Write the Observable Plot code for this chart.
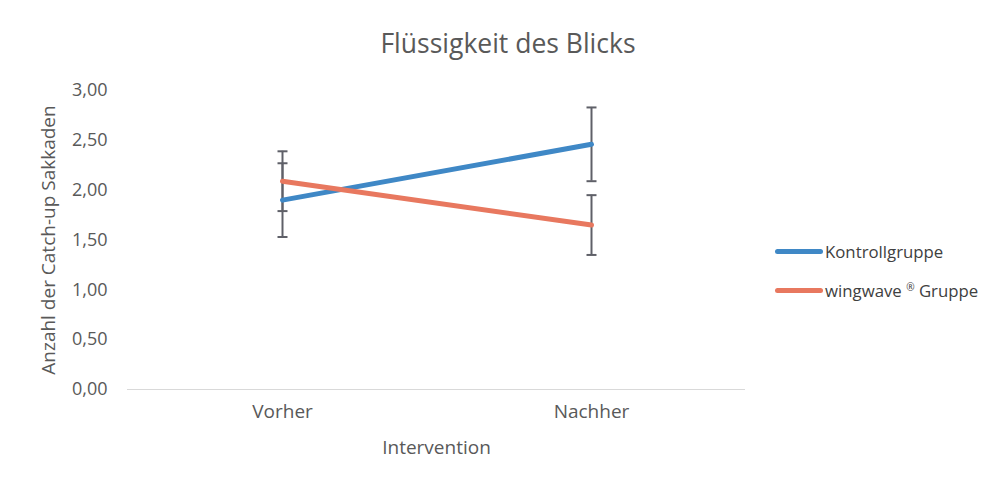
<!DOCTYPE html>
<html><head><meta charset="utf-8">
<script src="https://cdn.jsdelivr.net/npm/d3@7"></script>
<script src="https://cdn.jsdelivr.net/npm/@observablehq/plot@0.6"></script>
<style>
body{margin:0;background:#fff;font-family:"Open Sans",sans-serif;}
#wrap{position:relative;width:994px;height:481px;}
#title{position:absolute;left:0;width:1016px;top:25px;text-align:center;font-size:26.5px;color:#595959;}
#legend{position:absolute;left:775px;top:239px;font-size:16.8px;color:#404040;}
.item{display:flex;align-items:center;height:24px;margin-bottom:15px;white-space:pre;}
.sw{width:48px;height:5px;border-radius:3px;margin-right:2px;}
.reg{font-size:0.6em;position:relative;top:-0.5em;}
</style></head>
<body><div id="wrap"><div id="title">Flüssigkeit des Blicks</div><div id="legend"></div></div>
<script>
const phases = ["Vorher", "Nachher"];
const series = ["Kontrollgruppe", "wingwave ® Gruppe"];
const kontroll = [1.90, 2.46];
const wingwave = [2.09, 1.65];
const kontrollErr = [0.37, 0.37];
const wingwaveErr = [0.30, 0.30];
const colors = ["#3f88c6", "#e8785f"];
const yTicks = [0, 0.5, 1, 1.5, 2, 2.5, 3];

const data = [];
phases.forEach((p, i) => {
  data.push({phase: p, group: series[0], v: kontroll[i], e: kontrollErr[i]});
  data.push({phase: p, group: series[1], v: wingwave[i], e: wingwaveErr[i]});
});
const fmt = d => d3.format(".2f")(d).replace(".", ",");
const cap = {draw(ctx, size){ ctx.moveTo(-5,0); ctx.lineTo(5,0); }};

const chart = Plot.plot({
  width: 994, height: 481,
  marginLeft: 127, marginRight: 249, marginTop: 90, marginBottom: 92,
  style: {fontFamily: "'Open Sans', sans-serif", fontSize: "18px", color: "#595959", background: "transparent"},
  x: {type: "point", domain: phases, padding: 0.5},
  y: {domain: [0, 3]},
  color: {domain: series, range: colors},
  marks: [
    Plot.ruleY([0], {stroke: "#d9d9d9", strokeWidth: 1}),
    Plot.axisY({ticks: yTicks, tickFormat: fmt, tickSize: 0, tickPadding: 20, fontSize: 18, label: null}),
    Plot.axisY({ticks: [], label: "Anzahl der Catch-up Sakkaden", labelAnchor: "center", labelOffset: 86, labelArrow: false, fontSize: 19}),
    Plot.axisX({tickSize: 0, tickPadding: 15, fontSize: 19, label: null}),
    Plot.axisX({ticks: [], label: "Intervention", labelAnchor: "center", labelOffset: 64, labelArrow: false, fontSize: 19}),
    Plot.ruleX(data, {x: "phase", y1: d => d.v - d.e, y2: d => d.v + d.e, stroke: "#5f6068", strokeWidth: 2}),
    Plot.dot(data, {x: "phase", y: d => d.v - d.e, symbol: cap, stroke: "#5f6068", strokeWidth: 2}),
    Plot.dot(data, {x: "phase", y: d => d.v + d.e, symbol: cap, stroke: "#5f6068", strokeWidth: 2}),
    Plot.line(data, {x: "phase", y: "v", z: "group", stroke: "group", strokeWidth: 5, strokeLinecap: "round"})
  ]
});
document.getElementById("wrap").prepend(chart);
chart.style.position = "absolute"; chart.style.left = "0"; chart.style.top = "0";
const leg = document.getElementById("legend");
series.forEach((s, i) => {
  const d = document.createElement("div"); d.className = "item";
  d.innerHTML = `<div class="sw" style="background:${colors[i]}"></div><span>${s.replace("®", '<span class="reg">®</span>')}</span>`;
  leg.appendChild(d);
});
</script></body></html>
